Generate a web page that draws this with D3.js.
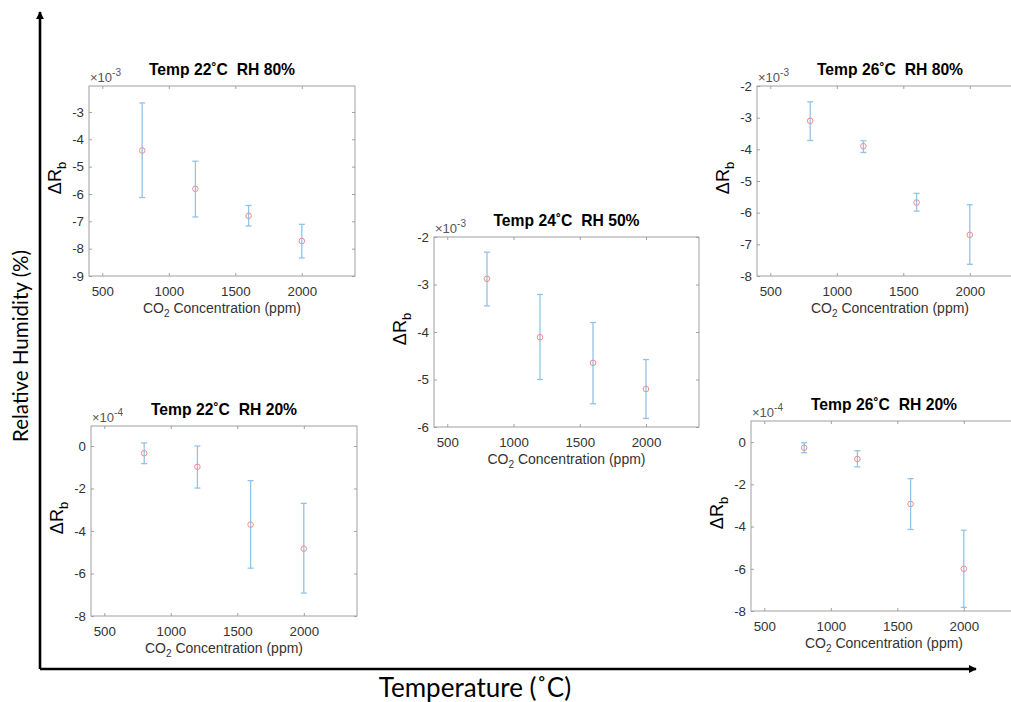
<!DOCTYPE html>
<html>

<head>
    <meta charset="utf-8">
    <script src="https://d3js.org/d3.v7.min.js"></script>
    <style>
        body { margin: 0; background: #fff; }
        text { font-family: "Liberation Sans", Arial, sans-serif; }
    </style>
</head>

<body>
    <div id="viz"></div>

    <script>

        // CO2 concentrations (ppm), same for every panel
        var co2 = [800, 1200, 1600, 2000];
        var xTicks = [500, 1000, 1500, 2000];

        // panel titles
        var titles = ["Temp 22˚C  RH 80%", "Temp 24˚C  RH 50%", "Temp 26˚C  RH 80%",
            "Temp 22˚C  RH 20%", "Temp 26˚C  RH 20%"];

        // exponent of each panel's y axis (values below are in these units)
        var exponents = [-3, -3, -3, -4, -4];

        // mean Delta R_b per panel
        var mean22_80 = [-4.41, -5.81, -6.80, -7.72];
        var mean24_50 = [-2.88, -4.11, -4.65, -5.20];
        var mean26_80 = [-3.10, -3.90, -5.68, -6.70];
        var mean22_20 = [-0.34, -0.98, -3.70, -4.83];
        var mean26_20 = [-0.27, -0.80, -2.93, -6.00];

        // error bar ends (upper / lower)
        var hi22_80 = [-2.67, -4.80, -6.42, -7.11];
        var lo22_80 = [-6.13, -6.84, -7.17, -8.34];
        var hi24_50 = [-2.32, -3.21, -3.80, -4.58];
        var lo24_50 = [-3.45, -5.00, -5.51, -5.82];
        var hi26_80 = [-2.50, -3.73, -5.39, -5.75];
        var lo26_80 = [-3.72, -4.10, -5.95, -7.63];
        var hi22_20 = [0.14, 0.00, -1.63, -2.70];
        var lo22_20 = [-0.83, -1.98, -5.75, -6.92];
        var hi26_20 = [-0.03, -0.41, -1.73, -4.17];
        var lo26_20 = [-0.50, -1.17, -4.14, -7.83];

        // axis limits and ticks
        var xDomain = [400, 2400];
        var yDomains = [[-9, -2.05], [-6, -2], [-8, -2], [-8, 0.94], [-8, 1]];
        var yTicks = [[-9, -8, -7, -6, -5, -4, -3], [-6, -5, -4, -3, -2],
            [-8, -7, -6, -5, -4, -3, -2], [-8, -6, -4, -2, 0], [-8, -6, -4, -2, 0]];

        var means = [mean22_80, mean24_50, mean26_80, mean22_20, mean26_20];
        var his = [hi22_80, hi24_50, hi26_80, hi22_20, hi26_20];
        var los = [lo22_80, lo24_50, lo26_80, lo22_20, lo26_20];

        // plot boxes on the page: left, top, width, height
        var boxes = [
            [89, 86, 266, 190],
            [434, 237, 265, 190],
            [757, 86, 266, 190],
            [91, 426, 266, 190],
            [751, 421, 266, 190]
        ];

        var W = 1011, H = 702;
        var svg = d3.select("#viz")
            .append("svg")
            .attr("width", W)
            .attr("height", H);

        var barColor = "#93c3e8",
            dotColor = "#f08c8c",
            boxColor = "#a0a0a0",
            labelColor = "#333";

        titles.forEach(function (title, p) {
            var b = boxes[p];
            var w = b[2], h = b[3];
            var g = svg.append("g")
                .attr("transform", "translate(" + b[0] + "," + b[1] + ")");

            var x = d3.scaleLinear().domain(xDomain).range([0, w]);
            var y = d3.scaleLinear().domain(yDomains[p]).range([h, 0]);

            // box
            g.append("rect")
                .attr("width", w).attr("height", h)
                .attr("fill", "none")
                .attr("stroke", boxColor)
                .attr("stroke-width", 1);

            function styleAxis(sel) {
                sel.select(".domain").remove();
                sel.selectAll(".tick line").attr("stroke", boxColor);
                sel.selectAll(".tick text")
                    .attr("fill", labelColor)
                    .style("font-size", "13.3px")
                    .style("font-family", "'Liberation Sans', Arial, sans-serif");
            }

            g.append("g")
                .attr("transform", "translate(0," + h + ")")
                .call(d3.axisBottom(x).tickValues(xTicks).tickSize(-3).tickPadding(11)
                    .tickFormat(function (d) { return String(d); }))
                .call(styleAxis);
            g.append("g")
                .call(d3.axisTop(x).tickValues(xTicks).tickSize(-3).tickFormat(""))
                .call(styleAxis);
            g.append("g")
                .call(d3.axisLeft(y).tickValues(yTicks[p]).tickSize(-3).tickPadding(5)
                    .tickFormat(function (d) { return String(d); }))
                .call(styleAxis);
            g.append("g")
                .attr("transform", "translate(" + w + ",0)")
                .call(d3.axisRight(y).tickValues(yTicks[p]).tickSize(-3).tickFormat(""))
                .call(styleAxis);

            // error bars
            var pts = co2.map(function (c, i) {
                return { x: c, m: means[p][i], hi: his[p][i], lo: los[p][i] };
            });
            var eb = g.selectAll(".eb").data(pts).enter().append("g")
                .attr("stroke", barColor)
                .attr("stroke-width", 1.3);
            eb.append("line")
                .attr("x1", function (d) { return x(d.x); })
                .attr("x2", function (d) { return x(d.x); })
                .attr("y1", function (d) { return y(d.hi); })
                .attr("y2", function (d) { return y(d.lo); });
            eb.append("line")
                .attr("x1", function (d) { return x(d.x) - 3; })
                .attr("x2", function (d) { return x(d.x) + 3; })
                .attr("y1", function (d) { return y(d.hi); })
                .attr("y2", function (d) { return y(d.hi); });
            eb.append("line")
                .attr("x1", function (d) { return x(d.x) - 3; })
                .attr("x2", function (d) { return x(d.x) + 3; })
                .attr("y1", function (d) { return y(d.lo); })
                .attr("y2", function (d) { return y(d.lo); });

            // markers
            g.selectAll(".dot").data(pts).enter().append("circle")
                .attr("cx", function (d) { return x(d.x); })
                .attr("cy", function (d) { return y(d.m); })
                .attr("r", 2.8)
                .attr("fill", "none")
                .attr("stroke", dotColor)
                .attr("stroke-width", 1);

            // title
            g.append("text")
                .attr("x", x(1400)).attr("y", -11)
                .attr("text-anchor", "middle")
                .style("white-space", "pre")
                .style("font-size", "15.7px")
                .style("font-weight", "bold")
                .attr("fill", "#000")
                .text(title);

            // exponent
            var ex = g.append("text")
                .attr("x", 1).attr("y", -4)
                .attr("fill", "#555")
                .style("font-size", "13px");
            ex.append("tspan").text("×10");
            ex.append("tspan").attr("dy", -6).style("font-size", "10px").text(String(exponents[p]));

            // x label
            var xl = g.append("text")
                .attr("x", x(1400)).attr("y", h + 37)
                .attr("text-anchor", "middle")
                .attr("fill", labelColor)
                .style("font-size", "14px");
            xl.append("tspan").text("CO");
            xl.append("tspan").attr("dy", 4).style("font-size", "10px").text("2");
            xl.append("tspan").attr("dy", -4).text(" Concentration (ppm)");

            // y label
            var yl = g.append("text")
                .attr("transform", "translate(-28," + (h / 2 - 3) + ") rotate(-90)")
                .attr("text-anchor", "middle")
                .attr("fill", "#000")
                .style("font-size", "18px");
            yl.append("tspan").text("ΔR");
            yl.append("tspan").attr("dy", 5).style("font-size", "13px").text("b");
        });

        // big arrows
        var defs = svg.append("defs");
        defs.append("marker")
            .attr("id", "arrow")
            .attr("viewBox", "0 0 10 10")
            .attr("refX", 9).attr("refY", 5)
            .attr("markerWidth", 3.2).attr("markerHeight", 3.2)
            .attr("orient", "auto")
            .append("path")
            .attr("d", "M0,0 L10,5 L0,10 Z")
            .attr("fill", "#000");

        svg.append("line")
            .attr("x1", 40).attr("y1", 669).attr("x2", 40).attr("y2", 12)
            .attr("stroke", "#000").attr("stroke-width", 2.6)
            .attr("marker-end", "url(#arrow)");
        svg.append("line")
            .attr("x1", 40).attr("y1", 669).attr("x2", 976).attr("y2", 669)
            .attr("stroke", "#000").attr("stroke-width", 2.6)
            .attr("marker-end", "url(#arrow)");

        svg.append("text")
            .attr("x", 475).attr("y", 697)
            .attr("text-anchor", "middle")
            .style("font-family", "Lato, 'Open Sans', sans-serif")
            .style("font-size", "26px")
            .attr("fill", "#000")
            .text("Temperature (˚C)");

        svg.append("text")
            .attr("transform", "translate(28,346) rotate(-90)")
            .attr("text-anchor", "middle")
            .style("font-family", "Lato, 'Open Sans', sans-serif")
            .style("font-size", "20.5px")
            .attr("fill", "#000")
            .text("Relative Humidity (%)");

    </script>
</body>

</html>
